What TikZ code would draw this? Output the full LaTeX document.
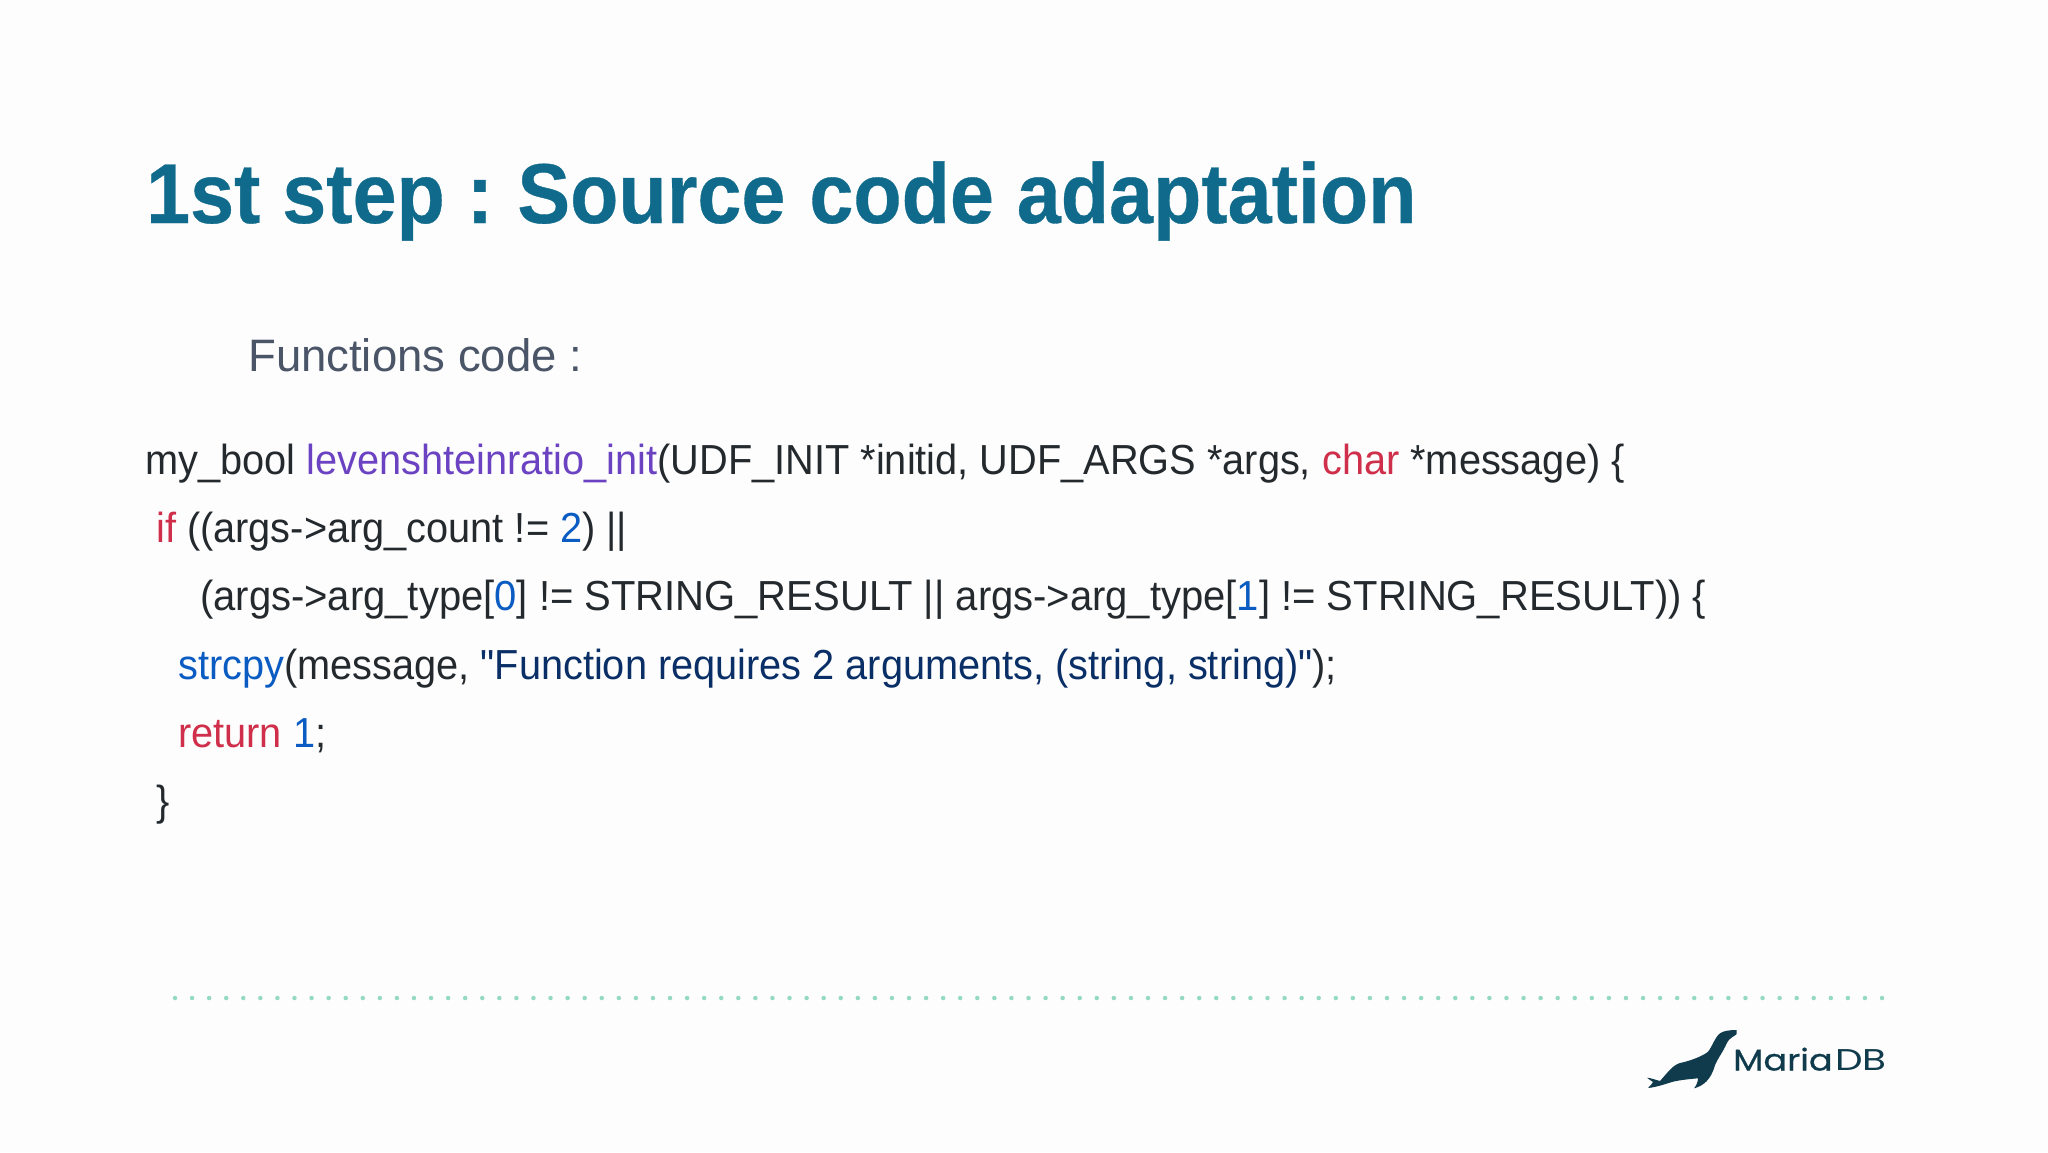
\documentclass[tikz,border=0pt]{standalone}
\usepackage{fontspec}
\setmainfont{Liberation Sans}
\newfontfamily\titlefont{Liberation Sans Bold}[FakeStretch=0.93,FakeBold=0.4]
\newfontfamily\codefont{Liberation Sans}[FakeStretch=0.946]
\newfontfamily\codewide{Liberation Sans}[FakeStretch=0.952]
\newfontfamily\logofont{Poppins}[FakeStretch=1.17,FakeBold=0.7]
\newfontfamily\logolight{Poppins}[FakeStretch=1.3]
\usetikzlibrary{positioning}
\definecolor{titleblue}{HTML}{0F6A8B}
\definecolor{subgrey}{HTML}{4A5568}
\definecolor{codeblack}{HTML}{24292E}
\definecolor{kwred}{HTML}{CF2F4A}
\definecolor{fnpurple}{HTML}{6A42C2}
\definecolor{numblue}{HTML}{0A5CC2}
\definecolor{strnavy}{HTML}{0A2F66}
\definecolor{dotgreen}{HTML}{93D9C4}
\definecolor{sealdark}{HTML}{0F3B4C}
\newcommand{\kw}[1]{\textcolor{kwred}{#1}}
\newcommand{\fn}[1]{\textcolor{fnpurple}{#1}}
\newcommand{\num}[1]{\textcolor{numblue}{#1}}
\newcommand{\str}[1]{\textcolor{strnavy}{#1}}
\tikzset{
  codeline/.style={anchor=base west,inner sep=0pt,text=codeblack,font=\codefont\fontsize{42}{50}\selectfont},
}
\begin{document}
\begin{tikzpicture}[x=1pt,y=-1pt]
	\useasboundingbox (0,0) rectangle (2048,1152);
	\fill[white!99.4!black] (0,0) rectangle (2048,1152);
	\node[anchor=base west,inner sep=0pt,text=titleblue,font=\titlefont\fontsize{85}{100}\selectfont] (title) at (146,223) {1st step :\hspace{-5pt} Source\hspace{2pt} code\hspace{1pt} adaptation};
	\node[anchor=base west,inner sep=0pt,text=subgrey,font=\fontsize{45.5}{54}\selectfont] (sub) at (248,371) {Functions code :};

	\node[codeline] (l1) at (145,474) {my\_bool \fn{levenshteinratio\_init}(UDF\_INIT *initid, UDF\_ARGS *args, \kw{char} *message) \{};
	\node[codeline] (l2) at (156,542) {\kw{if} ((args->arg\_count != \num{2}) ||};
	\node[codeline,font=\codewide\fontsize{42}{50}\selectfont] (l3) at (200,610.5) {(args->arg\_type[\num{0}] != STRING\_RESULT || args->arg\_type[\num{1}] != STRING\_RESULT)) \{};
	\node[codeline] (l4) at (178,679) {\num{strcpy}(message, \str{"Function requires 2 arguments, (string, string)"});};
	\node[codeline] (l5) at (178,747.5) {\kw{return} \num{1};};
	\node[codeline] (l6) at (156,815) {\}};

	% dotted rule
	\draw[dotgreen,line width=4.5pt,line cap=round,dash pattern=on 0pt off 17.07pt] (175,998) -- (1888,998);

	% logo
	\fill[sealdark] (1736.7,1030) .. controls (1729,1030) and (1723,1031) .. (1720,1033.3)
		.. controls (1715,1037) and (1712,1047) .. (1708,1051.7)
		.. controls (1703,1056) and (1690,1061) .. (1680,1063)
		.. controls (1673,1065) and (1668,1072) .. (1660,1081)
		.. controls (1656,1080) and (1651,1078) .. (1647,1077.7)
		.. controls (1649,1079) and (1651,1081) .. (1653,1082)
		.. controls (1652,1084) and (1650,1086) .. (1648,1088)
		.. controls (1658,1087) and (1668,1083) .. (1673,1081.7)
		.. controls (1680,1080) and (1690,1079) .. (1698,1078.3)
		.. controls (1698,1082) and (1696,1086) .. (1694,1088.3)
		.. controls (1703,1086) and (1711,1080) .. (1715,1065)
		.. controls (1718,1058) and (1723,1052) .. (1727,1042.7)
		.. controls (1729,1038) and (1735,1036) .. (1736.7,1034) -- cycle;
	\node[anchor=base west,inner sep=0pt,text=sealdark,font=\logofont\fontsize{30}{36}\selectfont] (logo) at (1733,1070.5) {Maria};
	\node[right=2pt of logo.base east,anchor=base west,inner sep=0pt,text=sealdark,font=\logolight\fontsize{30}{36}\selectfont] (logodb) {DB};
\end{tikzpicture}
\end{document}
